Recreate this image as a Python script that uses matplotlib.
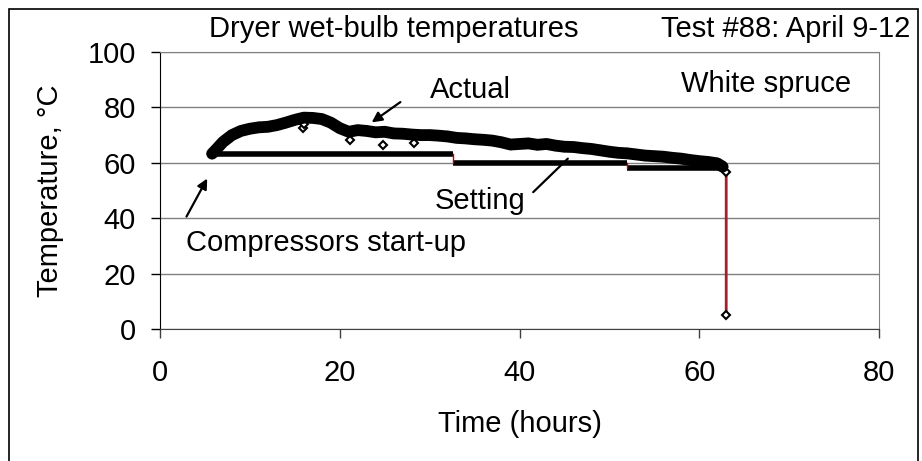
import matplotlib
matplotlib.use("Agg")
import matplotlib.pyplot as plt
from matplotlib.patches import Rectangle

plt.rcParams["font.family"] = ["Liberation Sans", "DejaVu Sans"]
plt.rcParams["font.size"] = 21

# measured wet-bulb temperature (hours, deg C)
actual_t = [5.8, 6.3, 7, 8, 9, 10, 11, 12, 13, 14, 15, 16, 17, 18, 19, 20, 21, 22,
            23, 24, 25, 26, 27, 28, 29, 30, 31, 32, 33, 34, 35, 36, 37, 38, 39, 40,
            41, 42, 43, 44, 45, 46, 47, 48, 49, 50, 51, 52, 53, 54, 55, 56, 57, 58,
            59, 60, 61, 62, 62.6, 63.0, 63.0]
actual_v = [63.3, 65, 67.5, 70, 71.5, 72.3, 72.8, 73, 73.6, 74.5, 75.5, 76.3, 76.2,
            75.8, 74.5, 72.5, 71.2, 71.8, 71.5, 71, 71.2, 70.6, 70.5, 70.2, 70, 70,
            69.8, 69.5, 69, 68.8, 68.5, 68.3, 68, 67.4, 66.6, 66.8, 67, 66.5, 66.8,
            66.2, 65.8, 65.7, 65.3, 65, 64.5, 64, 63.6, 63.4, 63, 62.6, 62.4, 62.2,
            61.8, 61.5, 61, 60.6, 60.3, 59.8, 58.6, 56.5, 5]

# scattered low readings
outlier_t = [15.9, 16.0, 21.1, 24.8, 28.3]
outlier_v = [72.5, 74.0, 68.2, 66.4, 67.1]

# set point steps
setting_t = [5.8, 32.6, 52.0, 62.6]
setting_v = [63, 60, 58.3]

fig = plt.figure(figsize=(9.22, 4.61), dpi=100)
ax = fig.add_axes([160 / 922, 1 - 329 / 461, 719 / 922, 277 / 461])

ax.plot(actual_t, actual_v, color="#a51f2a", lw=2, marker="D", ms=4,
        mfc="white", mec="black", mew=1.5, zorder=3)
ax.plot(actual_t[:-2], actual_v[:-2], color="black", lw=8.5,
        solid_capstyle="round", zorder=4)
ax.plot(outlier_t, outlier_v, ls="none", marker="D", ms=4, mfc="white",
        mec="black", mew=1.5, zorder=3)

for i, v in enumerate(setting_v):
    ax.plot([setting_t[i], setting_t[i + 1]], [v, v], color="black", lw=4,
            solid_capstyle="butt", zorder=2)
    if i > 0:
        ax.plot([setting_t[i], setting_t[i]], [setting_v[i - 1], v],
                color="#c00000", lw=1, zorder=2)

ax.annotate("", xy=(23.3, 74.0), xytext=(27.0, 82.5),
            arrowprops=dict(arrowstyle="-|>", color="black", lw=1.6,
                            mutation_scale=15), zorder=5)
ax.text(34.5, 86.3, "Actual", ha="center", va="center")
ax.annotate("", xy=(45.6, 62.2), xytext=(41.3, 48.7),
            arrowprops=dict(arrowstyle="-", color="black", lw=1.6), zorder=5)
ax.text(35.6, 46.2, "Setting", ha="center", va="center")
ax.annotate("", xy=(5.4, 55.2), xytext=(2.8, 39.7),
            arrowprops=dict(arrowstyle="-|>", color="black", lw=1.6,
                            mutation_scale=15), zorder=5)
ax.text(18.5, 31, "Compressors start-up", ha="center", va="center")
ax.text(67.4, 88.4, "White spruce", ha="center", va="center")

ax.set_xlim(0, 80)
ax.set_ylim(0, 100)
ax.set_xticks([0, 20, 40, 60, 80])
ax.set_yticks([0, 20, 40, 60, 80, 100])
ax.yaxis.grid(True, color="#808080", lw=1)
ax.set_axisbelow(True)
ax.tick_params(direction="out", length=6.5, width=1, pad=11, colors="black")
ax.tick_params(axis="x", color="#404040", pad=15)
for side in ("top", "right"):
    ax.spines[side].set_color("#808080")
ax.spines["left"].set_color("black")
ax.spines["bottom"].set_color("#404040")

ax.set_xlabel("Time (hours)", labelpad=17)
ax.set_ylabel("Temperature, °C", labelpad=17)

fig.text(394 / 922, 1 - 29 / 461, "Dryer wet-bulb temperatures", ha="center", va="center")
fig.text(910 / 922, 1 - 29 / 461, "Test #88: April 9-12", ha="right", va="center")

fig.add_artist(Rectangle((9 / 922, -0.1), 909 / 922, 1.1 - 9 / 461,
                         transform=fig.transFigure, fill=False,
                         edgecolor="black", lw=1.2))

fig.savefig("out.png", dpi=100)
